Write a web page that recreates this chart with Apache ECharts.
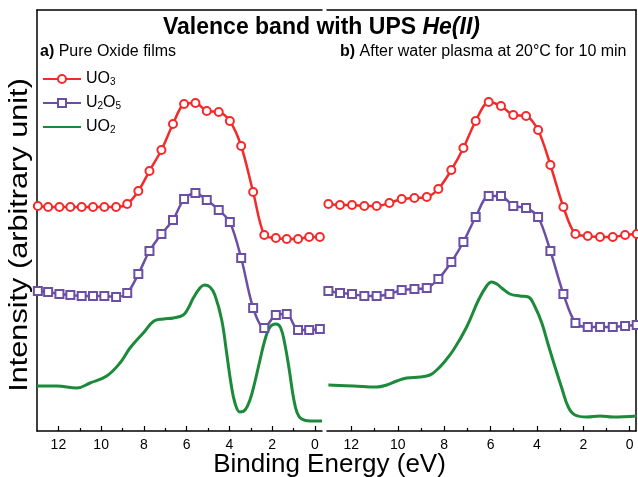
<!DOCTYPE html>
<html><head><meta charset="utf-8">
<script src="https://cdn.jsdelivr.net/npm/echarts@6/dist/echarts.min.js"></script>
<style>html,body{margin:0;padding:0;background:#fff}#c{width:638px;height:477px}</style>
</head><body><div id="c"></div>
<script>
const FONT = '"Liberation Sans", Arial, sans-serif';
const ticksMajor = [0, 2, 4, 6, 8, 10, 12];
const ticksMinor = [1, 3, 5, 7, 9, 11];

// Panel a) Pure oxide films
const markerEnergyA = [12.96, 12.48, 11.95, 11.44, 10.91, 10.38, 9.85, 9.30, 8.78, 8.26, 7.74, 7.18, 6.64, 6.12, 5.59, 5.06, 4.50, 3.98, 3.45, 2.89, 2.37, 1.83, 1.32, 0.79, 0.27, -0.23];
const uo3A  = [225, 224, 224, 224, 224, 224, 224, 224, 227, 240, 260, 281, 307, 327, 328, 320, 319, 310, 285, 239, 196, 193, 192, 192, 194, 194];
const u2o5A = [140, 139, 137, 136, 135, 135, 135, 134, 138, 157, 180, 197, 211, 232, 238, 231, 221, 209, 173, 123, 103, 116, 117, 101, 101, 102];
const uo2EnergyA = [13.0, 12.08, 11.14, 10.52, 9.74, 9.12, 8.65, 8.03, 7.53, 7.09, 6.62, 6.16, 5.92, 5.69, 5.38, 5.17, 4.91, 4.68, 4.36, 4.13, 3.93, 3.74, 3.51, 3.27, 3.04, 2.81, 2.57, 2.34, 2.10, 1.82, 1.60, 1.40, 1.20, 1.01, 0.83, 0.62, 0.23, -0.33];
const uo2A = [45, 45, 43, 48, 55, 68, 83, 98, 110, 112, 113, 116, 123, 133, 143, 146, 144, 136, 111, 78, 48, 28, 19, 21, 31, 49, 71, 91, 104, 107, 103, 86, 61, 34, 18, 12, 10, 10];

// Panel b) After water plasma at 20°C for 10 min
const markerEnergyB = [12.99, 12.49, 11.97, 11.44, 10.91, 10.36, 9.83, 9.28, 8.75, 8.25, 7.69, 7.17, 6.64, 6.08, 5.55, 5.02, 4.47, 3.95, 3.42, 2.86, 2.34, 1.81, 1.28, 0.73, 0.20, -0.30];
const uo3B  = [227, 226, 226, 225, 225, 228, 232, 233, 234, 242, 261, 283, 310, 329, 325, 316, 315, 301, 266, 224, 197, 195, 194, 194, 196, 197];
const u2o5B = [140, 138, 137, 135, 135, 137, 141, 142, 143, 152, 169, 189, 214, 235, 235, 225, 223, 214, 180, 137, 108, 104, 104, 104, 105, 106];
const uo2EnergyB = [12.99, 11.91, 10.91, 10.48, 10.04, 9.61, 9.04, 8.61, 8.32, 8.03, 7.60, 7.03, 6.52, 6.17, 5.95, 5.73, 5.52, 5.16, 4.73, 4.37, 4.08, 3.79, 3.51, 3.22, 2.93, 2.65, 2.36, 1.85, 1.28, 0.71, -0.30];
const uo2B = [46, 45, 44, 46, 50, 53, 54, 56, 61, 68, 81, 104, 131, 145, 149, 147, 143, 137, 135, 134, 124, 108, 86, 64, 43, 24, 16, 14, 15, 14, 15];

const seriesNames = ['UO3', 'U2O5', 'UO2'];
const legendLabels = ['{n|UO}{s|3}', '{n|U}{s|2}{n|O}{s|5}', '{n|UO}{s|2}'];
const colors = ['#f42a2a', '#6a4fa5', '#1b8a3a'];

const zip = (xs, ys) => xs.map((x, i) => [x, ys[i]]);

function xAxes(gridIndex, min, max) {
  return [
    { type: 'value', gridIndex, position: 'bottom', inverse: true, min, max,
      axisLine: { show: true, onZero: false, lineStyle: { color: '#000', width: 1.5 } },
      axisTick: { show: true, inside: true, length: 5, customValues: ticksMajor, lineStyle: { color: '#000', width: 1.2 } },
      axisLabel: { show: true, customValues: ticksMajor, color: '#000', fontSize: 14, fontFamily: FONT, margin: 7 },
      splitLine: { show: false } },
    { type: 'value', gridIndex, position: 'bottom', inverse: true, min, max,
      axisLine: { show: false, onZero: false },
      axisTick: { show: true, inside: true, length: 3, customValues: ticksMinor, lineStyle: { color: '#000', width: 1.2 } },
      axisLabel: { show: false }, splitLine: { show: false } },
    { type: 'value', gridIndex, position: 'top', inverse: true, min, max,
      axisLine: { show: true, onZero: false, lineStyle: { color: '#000', width: 1.5 } },
      axisTick: { show: false }, axisLabel: { show: false }, splitLine: { show: false } }
  ];
}

function markerSeries(name, data, xi, yi, color, symbol) {
  return { name, type: 'line', xAxisIndex: xi, yAxisIndex: yi, data, smooth: 0.3,
    symbol, symbolSize: 8, showAllSymbol: true, clip: false,
    itemStyle: { color, borderWidth: 2 },
    lineStyle: { color, width: 2.5 }, emphasis: { disabled: true } };
}
function lineSeries(name, data, xi, yi, color) {
  return { name, type: 'line', xAxisIndex: xi, yAxisIndex: yi, data, smooth: 0.4,
    symbol: 'none', clip: false, itemStyle: { color },
    lineStyle: { color, width: 3 }, emphasis: { disabled: true } };
}

const rich = {
  n: { fontSize: 16, fontFamily: FONT, color: '#000', lineHeight: 16, verticalAlign: 'top' },
  s: { fontSize: 10, fontFamily: FONT, color: '#000', lineHeight: 10, verticalAlign: 'bottom' }
};
const rowTop = [71, 95, 119];

function legendFor(i) {
  const lg = {
    data: [seriesNames[i]], left: 42, top: rowTop[i], padding: 0, itemGap: 0,
    itemWidth: 38, itemHeight: 10, selectedMode: false,
    formatter: () => legendLabels[i],
    textStyle: { rich }
  };
  if (i === 2) lg.itemStyle = { opacity: 0 };
  return lg;
}

const chart = echarts.init(document.getElementById('c'), null, { renderer: 'canvas' });
chart.setOption({
  animation: false,
  backgroundColor: '#fff',
  grid: [
    { left: 37, top: 10, width: 285, height: 421 },
    { left: 327, top: 10, width: 309, height: 421 }
  ],
  xAxis: [...xAxes(0, -0.33, 13), ...xAxes(1, -0.27, 13.05)],
  yAxis: [
    { type: 'value', gridIndex: 0, position: 'left', min: 0, max: 421,
      axisLine: { show: true, onZero: false, lineStyle: { color: '#000', width: 1.5 } },
      axisTick: { show: false }, axisLabel: { show: false }, splitLine: { show: false } },
    { type: 'value', gridIndex: 1, position: 'right', min: 0, max: 421,
      axisLine: { show: true, onZero: false, lineStyle: { color: '#000', width: 1.5 } },
      axisTick: { show: false }, axisLabel: { show: false }, splitLine: { show: false } }
  ],
  title: [
    { text: '{b|Valence band with UPS }{i|He(II)}', left: 163, top: 16, padding: 0,
      textStyle: { rich: {
        b: { fontSize: 23, fontWeight: 'bold', fontFamily: FONT, color: '#000' },
        i: { fontSize: 23, fontWeight: 'bold', fontStyle: 'italic', fontFamily: FONT, color: '#000' } } } },
    { text: '{b|a)} Pure Oxide films', left: 40, top: 44, padding: 0,
      textStyle: { fontSize: 16, fontWeight: 'normal', fontFamily: FONT, color: '#000',
        rich: { b: { fontSize: 16, fontWeight: 'bold', fontFamily: FONT, color: '#000' } } } },
    { text: '{b|b)} After water plasma at 20°C for 10 min', left: 340, top: 44, padding: 0,
      textStyle: { fontSize: 16, fontWeight: 'normal', fontFamily: FONT, color: '#000',
        rich: { b: { fontSize: 16, fontWeight: 'bold', fontFamily: FONT, color: '#000' } } } }
  ],
  legend: [0, 1, 2].map(legendFor),
  graphic: [
    { type: 'text', x: 20, y: 235, rotation: Math.PI / 2, scaleX: 1.18,
      style: { text: 'Intensity (arbitrary unit)', font: '26px "Liberation Sans", Arial, sans-serif', fill: '#000', align: 'center', verticalAlign: 'middle' } },
    { type: 'text', x: 329.5, y: 465,
      style: { text: 'Binding Energy (eV)', font: '26px "Liberation Sans", Arial, sans-serif', fill: '#000', align: 'center', verticalAlign: 'middle' } }
  ],
  series: [
    markerSeries('UO3', zip(markerEnergyA, uo3A), 0, 0, colors[0], 'emptyCircle'),
    markerSeries('U2O5', zip(markerEnergyA, u2o5A), 0, 0, colors[1], 'emptyRect'),
    lineSeries('UO2', zip(uo2EnergyA, uo2A), 0, 0, colors[2]),
    markerSeries('UO3', zip(markerEnergyB, uo3B), 3, 1, colors[0], 'emptyCircle'),
    markerSeries('U2O5', zip(markerEnergyB, u2o5B), 3, 1, colors[1], 'emptyRect'),
    lineSeries('UO2', zip(uo2EnergyB, uo2B), 3, 1, colors[2])
  ]
});
</script></body></html>
